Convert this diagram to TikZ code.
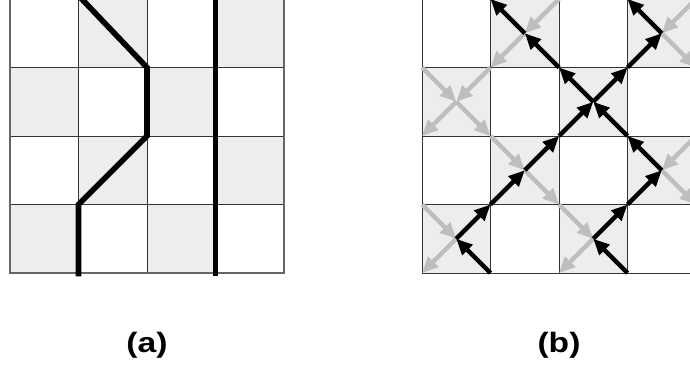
\documentclass[tikz,border=0pt]{standalone}
\usepackage{fontspec}
\setmainfont{Liberation Sans}
\usetikzlibrary{arrows.meta}
\definecolor{cellgray}{HTML}{EDEDED}
\definecolor{arrgray}{HTML}{BEBEBE}
\definecolor{gridc}{HTML}{333333}
\tikzset{
  gridline/.style={draw=gridc, line width=0.9pt},
  cellfill/.style={fill=cellgray},
  thickpath/.style={line width=5.6pt, black, line join=miter},
  blk/.style={line width=4.3pt, black, -{Triangle[length=16pt,width=14pt]}},
  gry/.style={line width=4.3pt, arrgray, -{Triangle[length=16pt,width=14pt]}},
  lab/.style={font=\bfseries\fontsize{28}{32}\selectfont, xscale=1.2, inner sep=0pt}
}
\begin{document}
\begin{tikzpicture}[x=1pt,y=-1pt]
\clip (0,0) rectangle (690,376);
\fill[white] (0,0) rectangle (690,376);

% ---------- (a) ----------
\begin{scope}[shift={(10pt,-273pt)}, x=68.5pt, y=68.5pt]
  \foreach \i/\j in {0/0,2/0,1/1,3/1,0/2,2/2,1/3,3/3}
    \fill[cellfill] (\i,\j) rectangle ++(1,1);
  \draw[gridline] (0,0) grid[step=1] (4,4);
  \draw[draw=black!60, line width=1.4pt] (0,0) rectangle (4,4);
  \draw[thickpath] (1,4.05) -- (2,3) -- (2,2) -- (1,1) -- (1,-0.05);
  \draw[thickpath] (3,4.05) -- (3,-0.05);
\end{scope}

% ---------- (b) ----------
\begin{scope}[shift={(422pt,-273pt)}, x=68.5pt, y=68.5pt]
  \foreach \i/\j in {0/0,2/0,1/1,3/1,0/2,2/2,1/3,3/3}
    \fill[cellfill] (\i,\j) rectangle ++(1,1);
  \draw[gridline] (0,0) grid[step=1] (4,4);
  % gray arrows
  \draw[gry] (0,1) -- (0.5,0.5);  \draw[gry] (0.5,0.5) -- (0,0);
  \draw[gry] (2,1) -- (2.5,0.5);  \draw[gry] (2.5,0.5) -- (2,0);
  \draw[gry] (1,2) -- (1.5,1.5);  \draw[gry] (1.5,1.5) -- (2,1);
  \draw[gry] (4,2) -- (3.5,1.5);  \draw[gry] (3.5,1.5) -- (4,1);
  \draw[gry] (0,3) -- (0.5,2.5);  \draw[gry] (1,3) -- (0.5,2.5);
  \draw[gry] (0.5,2.5) -- (0,2);  \draw[gry] (0.5,2.5) -- (1,2);
  \draw[gry] (2,4) -- (1.5,3.5);  \draw[gry] (1.5,3.5) -- (1,3);
  \draw[gry] (4,4) -- (3.5,3.5);  \draw[gry] (3.5,3.5) -- (4,3);
  % black arrows
  \draw[blk] (1,0) -- (0.5,0.5);  \draw[blk] (0.5,0.5) -- (1,1);
  \draw[blk] (3,0) -- (2.5,0.5);  \draw[blk] (2.5,0.5) -- (3,1);
  \draw[blk] (1,1) -- (1.5,1.5);  \draw[blk] (1.5,1.5) -- (2,2);
  \draw[blk] (3,1) -- (3.5,1.5);  \draw[blk] (3.5,1.5) -- (3,2);
  \draw[blk] (2,2) -- (2.5,2.5);  \draw[blk] (2.5,2.5) -- (3,3);
  \draw[blk] (3,2) -- (2.5,2.5);  \draw[blk] (2.5,2.5) -- (2,3);
  \draw[blk] (2,3) -- (1.5,3.5);  \draw[blk] (1.5,3.5) -- (1,4);
  \draw[blk] (3,3) -- (3.5,3.5);  \draw[blk] (3.5,3.5) -- (3,4);
\end{scope}

\node[lab] (la) at (147,345.5) {(a)};
\node[lab] (lb) at (559,345.5) {(b)};
\end{tikzpicture}
\end{document}
